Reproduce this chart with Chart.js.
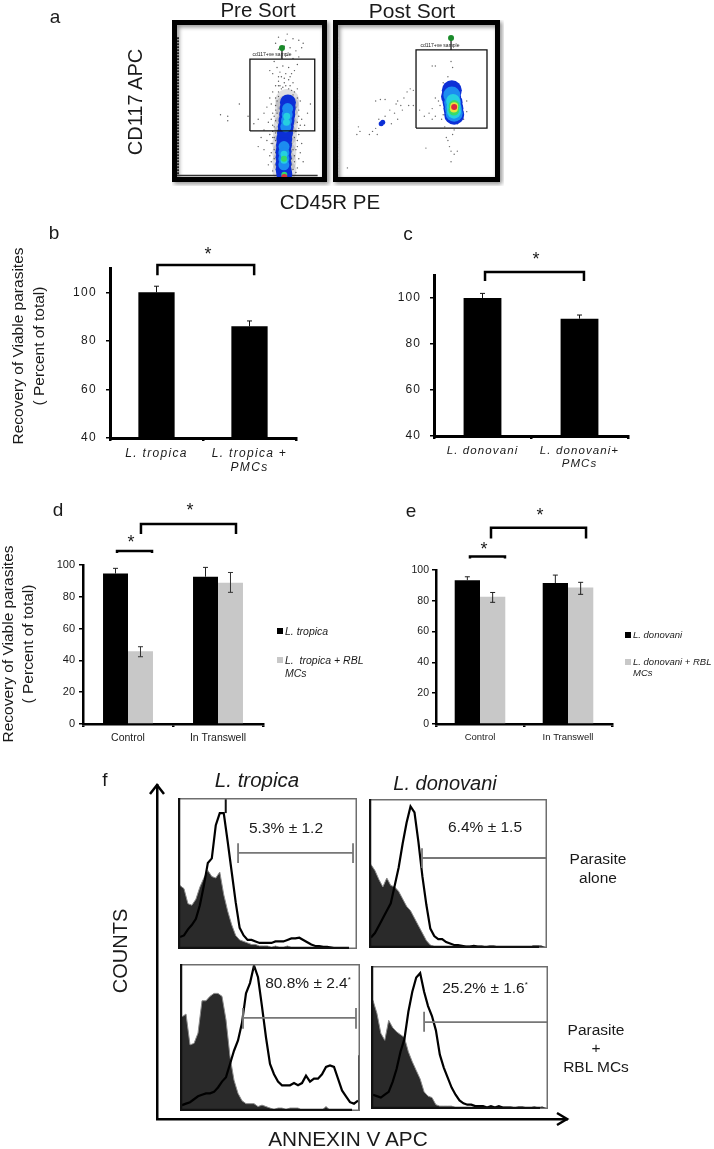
<!DOCTYPE html>
<html>
<head>
<meta charset="utf-8">
<title>Recovery of viable parasites</title>
<script src="https://cdn.jsdelivr.net/npm/chart.js@4"></script>
<style>
  html, body { margin: 0; padding: 0; background: #fff; }
  #page { position: relative; width: 714px; height: 1149px; overflow: hidden; font-family: "Liberation Sans", Arial, sans-serif; color: #1a1a1a; filter: blur(0.4px); }
  #page canvas { position: absolute; }
  .txt { position: absolute; white-space: nowrap; line-height: 1; }
  .sq { position: absolute; width: 6px; height: 6px; }
</style>
</head>
<body>
<div id="page"></div>
<script>
// panel a, flow cytometry, x and y in percent of the plot
const preGate = [50.3, 95, 30.3, 77.6];
const postGate = [49.7, 94.9, 32.2, 83.6];
const preDots = [[30,41],[35,40],[35,37],[43,48],[49,40],[56,20],[58,26],[60,31],[53,35],[56,38],[60,42],[63,36],[62,46],[64,52],[66,30],[62,24],[60,18],[64,14],[63,8],[66,22],[67,40],[68,47],[66,56],[68,60],[70,63],[72,66],[75,68],[78,66],[80,62],[83,58],[85,50],[84,44],[86,38],[90,42],[92,48],[88,34],[84,28],[86,22],[85,16],[87,10],[83,6],[84,32],[83,24],[82,18],[66,68],[69,72],[73,73],[77,72],[81,70],[83,74],[67,76],[72,79],[76,80],[80,78],[84,79],[70,84],[74,86],[78,85],[82,83],[86,85],[75,90],[70,92],[80,91],[84,90],[87,88],[76,94],[68,88],[64,70],[65,10],[65,16],[67,26],[66,34],[68,44],[68,52],[70,56],[72,58],[81,56],[83,52],[82,46],[83,36],[82,30],[81,14],[81,10],[66,4],[82,3],[70,60],[74,62],[78,60],
    [68,37],[69,42],[69,50],[70,53],[71,60],[73,59],[75,60],[77,58],[79,57],[80,54],[81,50],[80,44],[81,40],[80,35],[81,26],[79,28],[68,29],[67,33],[66,26],[68,24],[69,20],[68,16],[67,12],[68,8],[69,5],[79,22],[80,18],[79,12],[79,8],[80,5],[67,18],[66,42],[65,48],[65,38],[84,40],[85,34],[83,20],[84,12],[64,28],[65,22],[70,66],[74,65],[77,64],[71,69],[79,68]];
const postDots = [[6,6],[13,33],[14,30],[12,28],[20,28],[22,30],[24,32],[26,38],[25,28],[30,40],[33,44],[36,42],[38,50],[40,47],[42,52],[44,56],[46,58],[48,57],[45,47],[48,47],[34,35],[38,38],[27,51],[30,51],[24,50],[37,48],[41,44],[56,19],[70,24],[71,20],[72,17],[74,15],[76,17],[72,10],[73,28],[69,26],[74,31],[68,33],[60,38],[58,42],[62,40],[55,40],[52,44],[65,47],[64,50],[62,52],[60,45],[67,62],[70,66],[73,72],[72,76],[62,73],[60,73],[78,58],[82,50],[82,43],[80,38],[76,35],[67,41],[66,38]];
const preHalo = [[76,50],[76,46],[75.5,40],[75,34],[74.5,28],[74,22],[74,16],[74,10],[74,4]];
const preBlue = [[76.5,49],[76.3,45],[76,41],[75.5,37],[75,33],[74.5,29],[74,25],[73.8,21],[73.5,17],[73.5,13],[73.5,9],[73.5,5],[74,2]];
const preLight = [[76.3,45],[76,41],[75.5,37],[75,33],[73.8,20],[73.7,16],[73.7,12],[73.7,8]];
const preCyan = [[75.7,40],[75.5,36],[73.8,15],[73.8,11]];
const preGreen = [[73.8,12],[74,1.5]];
const preRed = [[74,0]];
const postBlue = [[72.5,57],[72,53],[73,49],[73.5,45],[74,41]];
const postLight = [[72.5,54],[73,49],[73.5,45],[74,42]];
const postCyan = [[73.3,50],[73.7,46],[73.9,43]];
const postGreen = [[74,47],[73.8,44]];
const postYellow = [[74,46.5],[73.8,45]];
const postRed = [[74,46]];
const postSmallBlue = [[27.5,35],[28.5,36]];
const preMarker = [72.4, 84.9];
const postMarker = [72, 91.4];

// panels b to e
const catsB = ['L. tropica', ['L. tropica +', 'PMCs']];
const valuesB = [100, 86];
const errHighB = [102.5, 88.2];
const catsC = ['L. donovani', ['L. donovani+', 'PMCs']];
const valuesC = [100, 91];
const errHighC = [102, 92.6];
const catsDE = ['Control', 'In Transwell'];
const tropica = [94.6, 92.6];
const tropicaRbl = [45.7, 88.9];
const tropicaHigh = [97.9, 98.5];
const tropicaRblHigh = [48.6, 95.3];
const tropicaRblLow = [42.3, 82.8];
const donovani = [93.4, 91.5];
const donovaniRbl = [82.6, 88.7];
const donovaniHigh = [95.6, 96.7];
const donovaniRblHigh = [85.4, 92];
const donovaniRblLow = [79, 84.2];

// panel f, histogram counts per bin, percent of plot height
const tlFilled = [42,40,30,29,33,41,47,52,48,47,51,36,25,16,9,6,5,4,3,3,2,2,2,1,2,1,1,2,1,1,1,1,1,0,1,0,0,0,0,0,0,0,0,0,0];
const tlOpen = [8,9,13,16,20,29,42,57,60,82,90,90,71,51,31,14,9,6,6,5,4,4,4,4,5,5,5,6,7,7,7.5,6,4.5,3,2,2,1.5,1.5,1,0.5,0,0,0,0,0];
const trFilled = [56,52,46,41,47,42,41,38,33,28,25,20,15,10,5,2,1,1,1,1,1,1,1,0.5,0.5,0.5,0.5,0.5,0.5,0,0.5,0,0,0,0,0,0,0,0,0,0,0,0,0,0];
const trOpen = [7,10,15,20,25,30,42,54,70,84,95,91,71,48,29,13,8,6,6,4,3,2,2,1.5,1,1,1.5,1,1,0.5,1,1,0.5,0.5,0.5,0,0,0,0,0,0,1,1,1,0];
const blFilled = [64,66,45,46,53,75,75,78,80,80,78,62,37,21,12,7,5,5,5,3,4,3,2,1,2,2,1,2,2,2,0.5,0.5,0.5,0.5,0.5,0.5,3,0.5,0,0,0,0,0,0,0];
const blOpen = [4,5,6,8,10,11,12,12,13,16,20,23,32,41,48,60,80,87,99,91,71,50,32,25,20,17.5,17.5,17.5,19,17.5,19,24,20,22,22,25,30,31,30,22,14,10,6,5,7];
const brFilled = [76,67,53,48,62,57,54,52,50,40,33,27,21,12,9,8,3,2,2,2,2,1,1,1,1,1,1,1,1,0.5,0.5,0.5,0.5,0.5,0.5,0.5,0,0,0,0,0,0,0,0,0];
const brOpen = [10,9,8,10,12,19,28,40,49,68,82,92,95,82,72,65,55,38,29,22,15,10,6,4,3,3,2,2,2,1,2,1,2,1,1,1,0.5,1,1,0.5,0.5,1,0.5,1,0];
// gate bar: first bin, last bin, height, tick bottom, tick top
const tlGate = [15.1, 44, 63.6, 57, 70];
const trGate = [13.4, 45, 60.4, 53.7, 67];
const blGate = [15.75, 44, 63.3, 56, 70];
const brGate = [13.5, 45, 60.8, 54, 68];
// off-scale spikes above the tallest bins
const tlSpike = [[12, 90], [12, 100]];
const blSpike = [[18.5, 96], [18.5, 100]];
const blRightEdge = [[44.8, 0], [44.8, 38]];

Chart.defaults.font.family = '"Liberation Sans", Arial, sans-serif';
Chart.defaults.color = '#1a1a1a';
Chart.defaults.animation = false;
Chart.defaults.layout.autoPadding = false;
Chart.defaults.plugins.legend.display = false;
Chart.defaults.plugins.tooltip.enabled = false;

const page = document.getElementById('page');

function addText(text, x, y, size, extra) {
    const opts = extra || {};
    const el = document.createElement('div');
    el.className = 'txt';
    el.innerHTML = text;
    el.style.left = x + 'px';
    el.style.top = y + 'px';
    el.style.fontSize = size + 'px';
    if (opts.italic) el.style.fontStyle = 'italic';
    const shift = opts.left ? 'translate(0,-50%)' : 'translate(-50%,-50%)';
    el.style.transform = shift + (opts.rotate ? ' rotate(-90deg)' : '');
    page.appendChild(el);
}

function addCanvas(left, top, width, height) {
    const c = document.createElement('canvas');
    c.width = width;
    c.height = height;
    c.style.left = left + 'px';
    c.style.top = top + 'px';
    page.appendChild(c);
    return c;
}

function toPoints(list) {
    return list.map(p => ({ x: p[0], y: p[1] }));
}

function blob(list, color, radius) {
    return { data: toPoints(list), showLine: false, pointRadius: radius, pointBorderWidth: 0, backgroundColor: color };
}

function pathLine(list, color, width, dash) {
    return { data: toPoints(list), showLine: true, pointRadius: 0, borderColor: color, borderWidth: width, borderDash: dash || [] };
}

// thick frame with a soft shadow round the flow plots
const flowFrame = {
    id: 'flowFrame',
    beforeDraw(chart) {
        const a = chart.chartArea, ctx = chart.ctx;
        ctx.save();
        ctx.shadowColor = 'rgba(0,0,0,0.45)';
        ctx.shadowBlur = 4;
        ctx.shadowOffsetX = 2;
        ctx.shadowOffsetY = 2;
        ctx.strokeStyle = '#000';
        ctx.lineWidth = 5;
        ctx.strokeRect(a.left - 2.5, a.top - 2.5, a.width + 5, a.height + 5);
        ctx.restore();
    }
};

function flowChart(left, top, width, height, pad, layers) {
    new Chart(addCanvas(left, top, width, height), {
        type: 'scatter',
        data: { datasets: layers },
        options: {
            responsive: false,
            layout: { padding: pad },
            scales: {
                x: { display: false, min: 0, max: 100 },
                y: { display: false, min: 0, max: 100 }
            }
        },
        plugins: [flowFrame]
    });
}

function gateBox(g) {
    return [[g[0], g[2]], [g[1], g[2]], [g[1], g[3]], [g[0], g[3]], [g[0], g[2]]];
}

flowChart(172, 20, 160, 166, { left: 5, top: 5, right: 10, bottom: 9 }, [
    pathLine(gateBox(preGate), '#111', 1.3),
    blob([preMarker], '#1a8a2a', 3),
    pathLine([preMarker, [preMarker[0], preGate[3]]], '#111', 1.2),
    blob(preRed, '#d8343a', 3),
    blob(preGreen, '#35d86c', 3),
    blob(preCyan, '#25cfe0', 3.5),
    blob(preLight, '#1c8cf0', 5.5),
    blob(preBlue, '#0c2fd6', 8),
    blob(preDots, '#5a5a5a', 0.7),
    blob(preHalo, 'rgba(50,50,60,0.16)', 12),
    pathLine([[0.7, 92], [0.7, 1.5]], '#222', 2, [2, 1]),
    pathLine([[0, 1], [97, 1]], '#333', 1.5)
]);

flowChart(332, 20, 172, 166, { left: 6, top: 5, right: 9, bottom: 9 }, [
    pathLine(gateBox(postGate), '#111', 1.3),
    blob([postMarker], '#1a8a2a', 3),
    pathLine([postMarker, [postMarker[0], postGate[3]]], '#111', 1.2),
    blob(postRed, '#dd2a3a', 3),
    blob(postYellow, '#e8e23c', 4),
    blob(postGreen, '#38dc6a', 5.5),
    blob(postCyan, '#25cfe0', 7),
    blob(postLight, '#1c8cf0', 8.5),
    blob(postBlue, '#0c2fd6', 10),
    blob(postSmallBlue, '#0c2fd6', 2.5),
    blob(postDots, '#6a6a6a', 0.7),
    pathLine([[0.3, 92], [0.3, 2]], '#bbb', 1, [2, 1])
]);

// error whiskers and significance brackets, both through the chart's scales
const barMarks = {
    id: 'barMarks',
    beforeDraw(chart, args, opts) {
        chart.ctx.letterSpacing = opts.spacing || '0px';
    },
    afterDatasetsDraw(chart, args, opts) {
        const ctx = chart.ctx, xs = chart.scales.x, ys = chart.scales.y;
        ctx.save();
        (opts.whiskers || []).forEach(w => {
            chart.getDatasetMeta(w.set).data.forEach((bar, i) => {
                const hi = ys.getPixelForValue(w.high[i]);
                const lo = ys.getPixelForValue(w.low ? w.low[i] : chart.data.datasets[w.set].data[i]);
                ctx.strokeStyle = w.color;
                ctx.lineWidth = 1;
                ctx.beginPath();
                ctx.moveTo(bar.x, hi);
                ctx.lineTo(bar.x, lo);
                ctx.moveTo(bar.x - 2.5, hi);
                ctx.lineTo(bar.x + 2.5, hi);
                if (w.low) {
                    ctx.moveTo(bar.x - 2.5, lo);
                    ctx.lineTo(bar.x + 2.5, lo);
                }
                ctx.stroke();
            });
        });
        (opts.brackets || []).forEach(b => {
            const x0 = xs.getPixelForValue(b[0]), x1 = xs.getPixelForValue(b[1]);
            const top = ys.getPixelForValue(b[2]), leg = ys.getPixelForValue(b[3]);
            ctx.strokeStyle = '#000';
            ctx.lineWidth = 2.5;
            ctx.beginPath();
            ctx.moveTo(x0, leg);
            ctx.lineTo(x0, top);
            ctx.lineTo(x1, top);
            ctx.lineTo(x1, leg);
            ctx.stroke();
        });
        ctx.restore();
    }
};

function barChart(cfg) {
    new Chart(addCanvas(cfg.left, cfg.top, cfg.width, cfg.height), {
        type: 'bar',
        data: { labels: cfg.labels, datasets: cfg.sets },
        options: {
            responsive: false,
            layout: { padding: cfg.pad },
            plugins: { barMarks: { whiskers: cfg.whiskers, brackets: cfg.brackets, spacing: cfg.spacing } },
            scales: {
                x: {
                    grid: { offset: true, drawOnChartArea: false, drawTicks: true, tickLength: 3, color: '#000', lineWidth: 2.5 },
                    border: { color: '#000', width: cfg.axisWidth },
                    ticks: { font: { size: cfg.catSize, style: cfg.catStyle, lineHeight: 1.15 }, padding: cfg.catPad, maxRotation: 0, autoSkip: false },
                    afterFit(s) { s.height = cfg.bottom; }
                },
                y: {
                    min: cfg.min,
                    max: cfg.max,
                    grid: { drawOnChartArea: false, drawTicks: true, tickLength: 4, color: '#000', lineWidth: 1.5 },
                    border: { color: '#000', width: cfg.axisWidth },
                    ticks: { stepSize: 20, includeBounds: false, font: { size: cfg.tickSize }, padding: cfg.tickPad },
                    afterFit(s) { s.width = cfg.axisLeft; }
                }
            }
        },
        plugins: [barMarks]
    });
}

function barSet(values, color, cat) {
    return { data: values, backgroundColor: color, borderWidth: 0, barPercentage: 1, categoryPercentage: cat };
}

barChart({
    left: 70, top: 240, width: 236, height: 240, axisLeft: 40, bottom: 42,
    pad: { top: 28, right: 10 }, labels: catsB, min: 40, max: 110,
    sets: [barSet(valuesB, '#000', 0.39)],
    whiskers: [{ set: 0, high: errHighB, color: '#111' }],
    brackets: [[0.01, 1.05, 111.2, 107]],
    axisWidth: 3, tickSize: 12, tickPad: 9, catSize: 12, catStyle: 'italic', catPad: 6, spacing: '1.3px'
});

barChart({
    left: 394, top: 240, width: 244, height: 238, axisLeft: 40, bottom: 42,
    pad: { top: 35, right: 10 }, labels: catsC, min: 40, max: 110,
    sets: [barSet(valuesC, '#000', 0.39)],
    whiskers: [{ set: 0, high: errHighC, color: '#111' }],
    brackets: [[0.026, 1.046, 111.3, 107.4]],
    axisWidth: 3, tickSize: 12, tickPad: 9, catSize: 11.5, catStyle: 'italic', catPad: 5, spacing: '1.1px'
});

barChart({
    left: 53, top: 515, width: 220, height: 235, axisLeft: 30, bottom: 26,
    pad: { top: 50, right: 10 }, labels: catsDE, min: 0, max: 100,
    sets: [barSet(tropica, '#000', 0.555), barSet(tropicaRbl, '#c8c8c8', 0.555)],
    whiskers: [
        { set: 0, high: tropicaHigh, color: '#222' },
        { set: 1, high: tropicaRblHigh, low: tropicaRblLow, color: '#333' }
    ],
    brackets: [[0.144, 1.2, 125.8, 119.5], [-0.122, 0.267, 108.8, 107.5]],
    axisWidth: 2.5, tickSize: 11, tickPad: 4, catSize: 10.5, catStyle: 'normal', catPad: 5
});

barChart({
    left: 406, top: 515, width: 216, height: 235, axisLeft: 30, bottom: 26,
    pad: { top: 55, right: 10 }, labels: catsDE, min: 0, max: 100,
    sets: [barSet(donovani, '#000', 0.575), barSet(donovaniRbl, '#c8c8c8', 0.575)],
    whiskers: [
        { set: 0, high: donovaniHigh, color: '#222' },
        { set: 1, high: donovaniRblHigh, low: donovaniRblLow, color: '#222' }
    ],
    brackets: [[0.125, 1.205, 127.5, 120.4], [-0.114, 0.284, 108.7, 107.4]],
    axisWidth: 2.5, tickSize: 10.5, tickPad: 3, catSize: 9.5, catStyle: 'normal', catPad: 5
});

// long arrows of panel f are the chart's own axis borders
const arrowHeads = {
    id: 'arrowHeads',
    afterDraw(chart) {
        const a = chart.chartArea, ctx = chart.ctx;
        ctx.save();
        ctx.strokeStyle = '#000';
        ctx.lineWidth = 2.5;
        ctx.beginPath();
        ctx.moveTo(a.left - 7, a.top + 9);
        ctx.lineTo(a.left, a.top);
        ctx.lineTo(a.left + 7, a.top + 9);
        ctx.moveTo(a.right - 10, a.bottom - 6);
        ctx.lineTo(a.right, a.bottom);
        ctx.lineTo(a.right - 10, a.bottom + 6);
        ctx.stroke();
        ctx.restore();
    }
};

new Chart(addCanvas(147, 775, 430, 354), {
    type: 'scatter',
    data: { datasets: [] },
    options: {
        responsive: false,
        layout: { padding: 10 },
        scales: {
            x: {
                min: 0, max: 100, grid: { display: false }, ticks: { display: false },
                border: { color: '#000', width: 2.5 }, afterFit(s) { s.height = 0; }
            },
            y: {
                min: 0, max: 100, grid: { display: false }, ticks: { display: false },
                border: { color: '#000', width: 2.5 }, afterFit(s) { s.width = 0; }
            }
        }
    },
    plugins: [arrowHeads]
});

const histFrame = {
    id: 'histFrame',
    afterDraw(chart) {
        const a = chart.chartArea, ctx = chart.ctx;
        ctx.save();
        ctx.strokeStyle = '#6e6e6e';
        ctx.lineWidth = 1.5;
        ctx.strokeRect(a.left + 0.75, a.top + 0.75, a.width - 1.5, a.height - 1.5);
        ctx.strokeStyle = '#111';
        ctx.lineWidth = 2.5;
        ctx.beginPath();
        ctx.moveTo(a.left + 1, a.top);
        ctx.lineTo(a.left + 1, a.bottom);
        ctx.moveTo(a.left, a.bottom - 1);
        ctx.lineTo(a.right - 8, a.bottom - 1);
        ctx.stroke();
        ctx.restore();
    }
};

function bins(values) {
    return values.map((v, i) => ({ x: i + 0.5, y: v }));
}

function gatePath(g) {
    return [[g[0], g[3]], [g[0], g[4]], [g[0], g[2]], [g[1], g[2]], [g[1], g[4]], [g[1], g[3]]];
}

function histChart(left, top, width, height, filled, open, gate, extras) {
    const marks = (extras || []).map(e => pathLine(e, '#111', 2));
    new Chart(addCanvas(left, top, width, height), {
        type: 'scatter',
        data: {
            datasets: marks.concat([
                pathLine(gatePath(gate), '#777', 1.8),
                { data: bins(open), showLine: true, pointRadius: 0, borderColor: '#000', borderWidth: 2.2, fill: false },
                { data: bins(filled), showLine: true, pointRadius: 0, borderColor: '#8a8a8a', borderWidth: 1, backgroundColor: '#2a2a2a', fill: 'origin' }
            ])
        },
        options: {
            responsive: false,
            layout: { padding: 0 },
            plugins: { filler: { propagate: false } },
            scales: {
                x: { display: false, min: 0, max: 45 },
                y: { display: false, min: 0, max: 100 }
            }
        },
        plugins: [histFrame]
    });
}

histChart(178, 798, 179, 151, tlFilled, tlOpen, tlGate, [tlSpike]);
histChart(369, 799, 178, 149, trFilled, trOpen, trGate);
histChart(180, 964, 180, 147, blFilled, blOpen, blGate, [blSpike, blRightEdge]);
histChart(371, 966, 177, 143, brFilled, brOpen, brGate);

// panel a text
addText('a', 55, 16, 19);
addText('Pre Sort', 258, 10, 20.5);
addText('Post Sort', 412, 10, 21);
addText('CD117 APC', 135, 102, 20, { rotate: true });
addText('CD45R PE', 330, 202, 20.5);
addText('cd117+ve sample', 272, 54, 5);
addText('cd117+ve sample', 440, 45, 5);

// panels b to e text
addText('b', 54, 232, 19);
addText('c', 408, 233, 19);
addText('d', 58, 509, 19);
addText('e', 411, 510, 19);
addText('Recovery of Viable parasites', 18, 346, 15.5, { rotate: true });
addText('( Percent of total)', 39, 346, 15.5, { rotate: true });
addText('Recovery of Viable parasites', 8, 644, 15.5, { rotate: true });
addText('( Percent of total)', 28, 644, 15.5, { rotate: true });
addText('*', 208, 254, 18);
addText('*', 536, 259, 18);
addText('*', 190, 510, 18);
addText('*', 131, 542, 18);
addText('*', 540, 515, 18);
addText('*', 484, 549, 18);

function legendSquare(x, y, color) {
    const s = document.createElement('div');
    s.className = 'sq';
    s.style.left = x + 'px';
    s.style.top = (y - 3) + 'px';
    s.style.background = color;
    page.appendChild(s);
}
legendSquare(277, 631, '#000');
legendSquare(277, 660, '#c8c8c8');
addText('L. tropica', 285, 631, 10.5, { italic: true, left: true });
addText('L.&nbsp; tropica + RBL', 285, 660, 10.5, { italic: true, left: true });
addText('MCs', 285, 673, 10.5, { italic: true, left: true });
legendSquare(625, 635, '#000');
legendSquare(625, 662, '#c8c8c8');
addText('L. donovani', 633, 635, 9.5, { italic: true, left: true });
addText('L. donovani + RBL', 633, 662, 9.5, { italic: true, left: true });
addText('MCs', 633, 673, 9.5, { italic: true, left: true });

// panel f text
addText('f', 105, 779, 19);
addText('L. tropica', 257, 780, 20.5, { italic: true });
addText('L. donovani', 445, 783, 20, { italic: true });
addText('COUNTS', 120, 951, 20, { rotate: true });
addText('ANNEXIN V APC', 348, 1139, 20.8);
addText('5.3% ± 1.2', 286, 828, 15.5);
addText('6.4% ± 1.5', 485, 827, 15.5);
addText('80.8% ± 2.4<sup style="font-size:8px">*</sup>', 308, 983, 15.5);
addText('25.2% ± 1.6<sup style="font-size:8px">*</sup>', 485, 988, 15.5);
addText('Parasite', 598, 859, 15.5);
addText('alone', 598, 878, 15.5);
addText('Parasite', 596, 1030, 15.5);
addText('+', 596, 1048, 15.5);
addText('RBL MCs', 596, 1067, 15.5);
</script>
</body>
</html>
